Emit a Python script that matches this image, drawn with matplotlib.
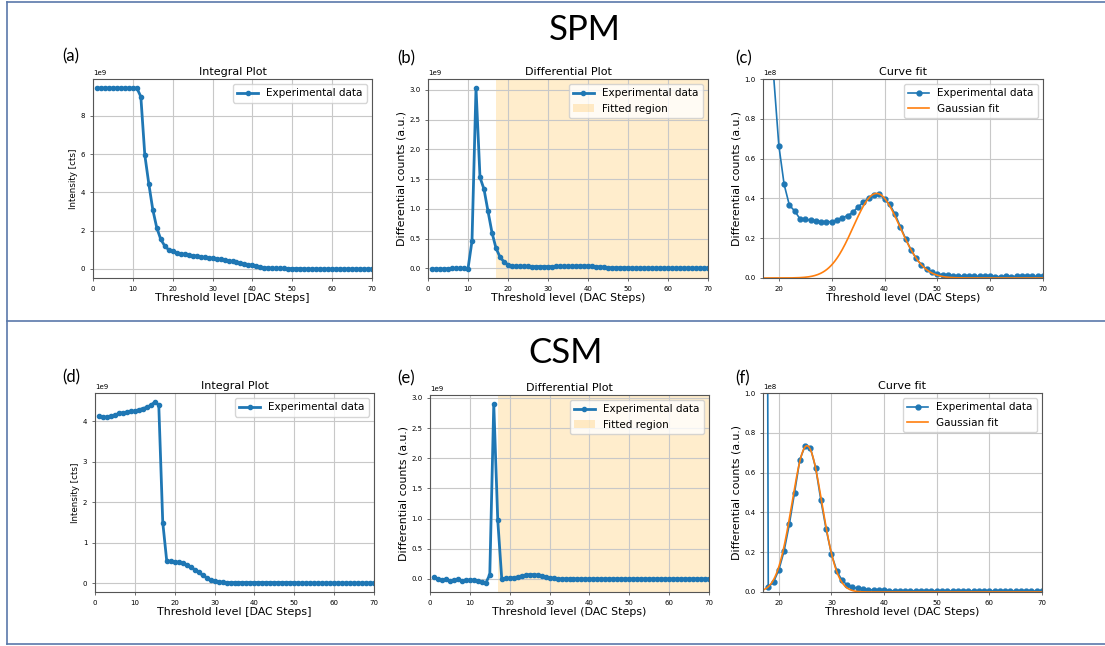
import numpy as np
import matplotlib
matplotlib.use("Agg")
import matplotlib.pyplot as plt
from matplotlib.lines import Line2D

# threshold steps
x_all = np.arange(1, 71)

# SPM integral (1e9 counts)
spm_integral = [9.45] * 11 + [
    9.0, 5.95, 4.45, 3.1, 2.15, 1.55, 1.2, 1.0, 0.92, 0.85,
    0.8, 0.76, 0.73, 0.7, 0.67, 0.63, 0.6, 0.58, 0.56, 0.53,
    0.5, 0.46, 0.43, 0.39, 0.35, 0.31, 0.27, 0.23, 0.19, 0.14,
    0.1, 0.07, 0.05, 0.04, 0.03, 0.03, 0.03, 0.02, 0.02, 0.02,
    0.02] + [0.0] * 18

# SPM differential (1e9)
spm_diff = [-0.01, -0.01, -0.01, -0.01, -0.005, 0.0, 0.0, 0.0, 0.0, -0.005,
            0.46, 3.03, 1.53, 1.33, 0.96, 0.6, 0.34, 0.19, 0.11, 0.06,
            0.04, 0.035, 0.035, 0.035, 0.035, 0.03, 0.03, 0.03, 0.03, 0.03,
            0.03, 0.035, 0.035, 0.035, 0.035, 0.035, 0.04, 0.04, 0.04, 0.04,
            0.037, 0.03, 0.025, 0.02, 0.012, 0.01, 0.01, 0.01, 0.01, 0.01,
            0.005, 0.005, 0.005, 0.005, 0.005, 0.005, 0.005, 0.005, 0.005, 0.005,
            0.005, 0.005, 0.005, 0.005, 0.005, 0.005, 0.005, 0.005, 0.005, 0.005]

# SPM curve-fit panel (1e8), x = 18..70
x_fit_spm = np.arange(18, 71)
spm_fit_data = [1.9, 1.02, 0.665, 0.47, 0.365, 0.337, 0.297, 0.295, 0.29, 0.288,
                0.283, 0.283, 0.283, 0.292, 0.303, 0.313, 0.33, 0.357, 0.38, 0.403,
                0.415, 0.422, 0.395, 0.37, 0.32, 0.258, 0.197, 0.142, 0.098, 0.066,
                0.043, 0.029, 0.02, 0.017, 0.013, 0.011, 0.01, 0.01, 0.009, 0.009,
                0.008, 0.008, 0.008, 0.007, 0.007, 0.008, 0.007, 0.008, 0.009, 0.008,
                0.009, 0.008, 0.008]
spm_gauss = dict(amp=0.425, mu=38.5, sigma=4.4)

# CSM integral (1e9)
csm_integral = [4.12, 4.1, 4.1, 4.13, 4.15, 4.19, 4.21, 4.22, 4.24, 4.25,
                4.28, 4.31, 4.34, 4.39, 4.47, 4.4, 1.5, 0.55, 0.54, 0.53,
                0.52, 0.5, 0.46, 0.4, 0.34, 0.27, 0.2, 0.14, 0.09, 0.06,
                0.04, 0.03] + [0.02] * 18 + [0.01] * 20

# CSM differential (1e9)
csm_diff = [0.03, -0.01, -0.02, -0.01, -0.03, -0.02, -0.01, -0.03, -0.02, -0.02,
            -0.02, -0.03, -0.05, -0.07, 0.07, 2.9, 0.97, 0.0, 0.01, 0.01,
            0.02, 0.03, 0.05, 0.06, 0.07, 0.07, 0.06, 0.05, 0.03, 0.02,
            0.01] + [0.0] * 39

# CSM curve-fit panel (1e8), x = 17..70
x_fit_csm = np.arange(17, 71)
csm_fit_data = [9.7, 0.025, 0.05, 0.11, 0.205, 0.34, 0.50, 0.665, 0.735, 0.725,
                0.625, 0.46, 0.315, 0.19, 0.108, 0.058, 0.036, 0.024, 0.018, 0.014,
                0.012, 0.01, 0.009, 0.009] + [0.006] * 10 + [0.005] * 20
csm_gauss = dict(amp=0.735, mu=25.35, sigma=2.85)

W, H = 1105, 646
fig = plt.figure(figsize=(W / 100, H / 100), dpi=100)

def box(l, t, r, b):
    return [l / W, 1 - b / H, (r - l) / W, (b - t) / H]

TICK = 5
def style(ax):
    ax.grid(True, color='#c8c8c8', lw=0.8)
    ax.tick_params(labelsize=TICK, length=2, width=0.6, color='#555555')
    for s in ax.spines.values():
        s.set_color('#555555')
        s.set_linewidth(0.8)
    ax.yaxis.get_offset_text().set_fontsize(TICK)

def integral(ax, y):
    ax.plot(x_all, np.array(y) * 1e9, '-o', color='#1f77b4', lw=2, ms=3,
            label='Experimental data')
    ax.set_xlim(0, 70)
    ax.set_title('Integral Plot', fontsize=8, pad=3)
    ax.set_xlabel('Threshold level [DAC Steps]', fontsize=7.9, labelpad=1)
    ax.set_ylabel('Intensity [cts]', fontsize=6.3, labelpad=2)
    ax.legend(loc='upper right', fontsize=7.5)
    style(ax)

def differential(ax, y):
    ax.plot(x_all, np.array(y) * 1e9, '-o', color='#1f77b4', lw=2, ms=3,
            label='Experimental data')
    ax.axvspan(17, 70, color='orange', alpha=0.2, lw=0, label='Fitted region')
    ax.set_xlim(0, 70)
    ax.set_title('Differential Plot', fontsize=8, pad=3)
    ax.set_xlabel('Threshold level (DAC Steps)', fontsize=7.9, labelpad=1)
    ax.set_ylabel('Differential counts (a.u.)', fontsize=7.9, labelpad=2)
    ax.legend(loc='upper right', fontsize=7.5)
    style(ax)

def curvefit(ax, xd, yd, g):
    ax.plot(xd, np.array(yd) * 1e8, '-o', color='#1f77b4', lw=1.2, ms=3.5,
            label='Experimental data')
    xs = np.linspace(17, 70, 400)
    ax.plot(xs, g['amp'] * 1e8 * np.exp(-(xs - g['mu']) ** 2 / (2 * g['sigma'] ** 2)),
            color='#ff7f0e', lw=1.2, label='Gaussian fit')
    ax.set_xlim(17, 70)
    ax.set_ylim(0, 1e8)
    ax.set_title('Curve fit', fontsize=8, pad=3)
    ax.set_xlabel('Threshold level (DAC Steps)', fontsize=7.9, labelpad=1)
    ax.set_ylabel('Differential counts (a.u.)', fontsize=7.9, labelpad=2)
    ax.legend(loc='upper right', fontsize=7.5)
    style(ax)

ax_a = fig.add_axes(box(93, 79, 372, 278))
ax_b = fig.add_axes(box(428, 79, 708, 278))
ax_c = fig.add_axes(box(763, 79, 1043, 278))
ax_d = fig.add_axes(box(95, 393, 374, 592))
ax_e = fig.add_axes(box(430, 395, 709, 592))
ax_f = fig.add_axes(box(763, 393, 1042, 592))

integral(ax_a, spm_integral)
differential(ax_b, spm_diff)
curvefit(ax_c, x_fit_spm, spm_fit_data, spm_gauss)
integral(ax_d, csm_integral)
differential(ax_e, csm_diff)
curvefit(ax_f, x_fit_csm, csm_fit_data, csm_gauss)

# panel letters and section titles
font = ['Lato', 'DejaVu Sans']
for lab, px, py in [('(a)', 62, 56), ('(b)', 397, 58), ('(c)', 735, 58),
                    ('(d)', 62, 377), ('(e)', 397, 378), ('(f)', 735, 378)]:
    fig.text(px / W, 1 - py / H, lab, fontsize=12, family=font, va='center')
fig.text(585 / W, 1 - 30 / H, 'SPM', fontsize=25, family=font, ha='center', va='center')
fig.text(566 / W, 1 - 353 / H, 'CSM', fontsize=25, family=font, ha='center', va='center')

# frame lines
lc = '#5a78aa'
for xs_, ys_ in [([7, 1105], [2, 2]), ([7, 1105], [321, 321]), ([7, 1105], [644, 644]),
                 ([7, 7], [2, 644])]:
    fig.add_artist(Line2D(np.array(xs_) / W, 1 - np.array(ys_) / H, color=lc, lw=1.2))

fig.savefig('out.png', dpi=100)
